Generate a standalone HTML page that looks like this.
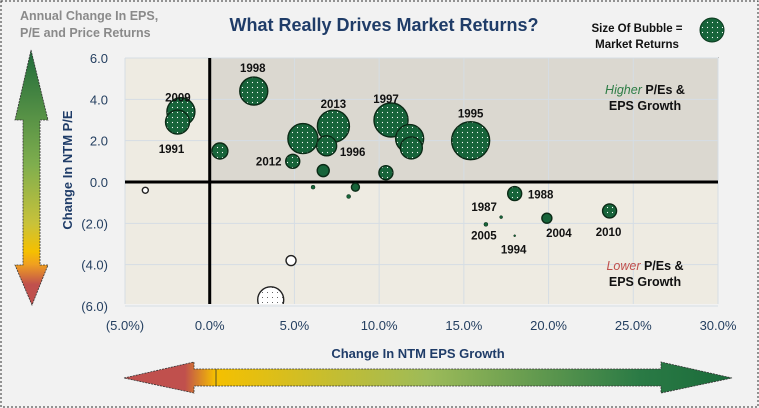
<!DOCTYPE html>
<html><head><meta charset="utf-8"><style>
html,body{margin:0;padding:0;background:#f2f2f2}
svg{display:block;font-family:"Liberation Sans",Arial,sans-serif}
</style></head><body>
<svg id="c" width="759" height="408" viewBox="0 0 759 408">
<defs>
<linearGradient id="vg" x1="0" y1="0" x2="0" y2="1">
<stop offset="0" stop-color="#1f6a3a"/><stop offset="0.45" stop-color="#7fae4e"/><stop offset="0.68" stop-color="#c8c23a"/><stop offset="0.79" stop-color="#f5c000"/><stop offset="0.84" stop-color="#f0a020"/><stop offset="0.92" stop-color="#c0504d"/><stop offset="1" stop-color="#c0504d"/>
</linearGradient>
<linearGradient id="hg" x1="0" y1="0" x2="1" y2="0">
<stop offset="0" stop-color="#c0504d"/><stop offset="0.1" stop-color="#c0504d"/><stop offset="0.15" stop-color="#f5c000"/><stop offset="0.5" stop-color="#9dbb59"/><stop offset="0.85" stop-color="#2a7a45"/><stop offset="1" stop-color="#1a6b3a"/>
</linearGradient>
<pattern id="dots" width="5" height="5" patternUnits="userSpaceOnUse"><rect width="5" height="5" fill="#17643a"/><circle cx="2.5" cy="2.5" r="0.6" fill="#fff"/></pattern>
<pattern id="wdots" width="5" height="5" patternUnits="userSpaceOnUse"><rect width="5" height="5" fill="#fff"/><circle cx="2.5" cy="2.5" r="0.5" fill="#333"/></pattern>
<clipPath id="pc"><rect x="125" y="58" width="593" height="246"/></clipPath>
</defs>
<rect x="1" y="1" width="757" height="406" fill="#f2f2f2" stroke="#333" stroke-dasharray="2,2"/>
<text x="20" y="20" font-size="12.5" font-weight="bold" fill="#8a8a8a">Annual Change In EPS,</text>
<text x="20" y="37" font-size="12.5" font-weight="bold" fill="#8a8a8a">P/E and Price Returns</text>
<text x="384" y="31" text-anchor="middle" font-size="18" font-weight="bold" fill="#1f3c68">What Really Drives Market Returns?</text>
<text x="637" y="32" text-anchor="middle" font-size="11.5" font-weight="bold" fill="#111">Size Of Bubble =</text>
<text x="637" y="48" text-anchor="middle" font-size="11.5" font-weight="bold" fill="#111">Market Returns</text>
<circle cx="712" cy="30" r="12" fill="url(#dots)" stroke="#0b3a1e"/>
<g id="plot"></g>
<g id="axes"></g>
<text transform="translate(72,170) rotate(-90)" text-anchor="middle" font-size="13" font-weight="bold" fill="#1f3c68">Change In NTM P/E</text>
<text x="418" y="358" text-anchor="middle" font-size="13" font-weight="bold" fill="#1f3c68">Change In NTM EPS Growth</text>
<polygon points="31,50 48,120 40,120 40,265 48,265 32,305 15,265 23,265 23,120 15,120" fill="url(#vg)" stroke="#333" stroke-width="0.8" stroke-dasharray="2,1"/>
<polygon points="124,378 194,362 194,369 661,369 661,362 732,378 661,393 661,386 194,386 194,393" fill="url(#hg)" stroke="#333" stroke-width="0.8" stroke-dasharray="2,1"/>
<line x1="216" y1="369" x2="216" y2="386" stroke="#333" stroke-width="0.8"/>
</svg>
<script>
const years = ["2009","1991","1998","","","2013","1996","2012","","1997","","","1995","","","","","","1988","1987","2005","1994","2004","2010","",""];
const epsGrowth = [-1.7,-1.9,2.6,0.6,5.5,7.3,6.9,4.9,6.7,10.7,11.8,11.9,15.4,10.4,-3.8,6.1,8.6,8.2,18.0,17.2,16.3,18.0,19.9,23.6,4.8,3.6];
const peChange = [3.4,2.9,4.4,1.5,2.1,2.7,1.75,1.0,0.55,3.0,2.1,1.65,2.0,0.45,-0.4,-0.25,-0.25,-0.7,-0.56,-1.7,-2.05,-2.6,-1.75,-1.4,-3.8,-5.7];
const marketReturn = [14,12,14,8,15,16,10,7,6,17,14,11,19,7,-3,2,4,2,7,1.5,2,1,5,7,-5,-13];
const xTicks = [-5,0,5,10,15,20,25,30];
const yTicks = [6,4,2,0,-2,-4,-6];
const labelDx = [-3,-6,-1,0,0,0,26,-24,0,-5,0,0,0,0,0,0,0,0,26,-17,-2,-1,12,-1,0,0];
const labelDy = [-14,27,-23,0,0,-22,6,0,0,-21,0,0,-27,0,0,0,0,0,1,-10,11,14,15,21,0,0];

const NS="http://www.w3.org/2000/svg";
const X=v=>125+(v+5)*(593/35);
const Y=v=>182-v*(124/6);
function mk(t,a,p){const e=document.createElementNS(NS,t);for(const k in a)e.setAttribute(k,a[k]);p.appendChild(e);return e;}
const plot=document.getElementById('plot'), axes=document.getElementById('axes');
let r=mk('rect',{x:125,y:58,width:593,height:246,fill:'#eeebe2'},plot);


r=mk('rect',{x:X(0),y:58,width:718-X(0),height:Y(0)-58,fill:'#dbd8d0',stroke:'#333','stroke-dasharray':'2,2'},plot);


xTicks.forEach(t=>{
  const l=mk('line',{x1:X(t),x2:X(t),y1:58,y2:304,stroke:'#d5dde4','stroke-width':1},plot);
  
  
  const tx=mk('text',{x:X(t),y:330,'text-anchor':'middle','font-size':13,fill:'#243f60'},axes);
  tx.textContent=t<0?'('+Math.abs(t).toFixed(1)+'%)':t.toFixed(1)+'%';
  
  
});
yTicks.forEach(t=>{
  const l=mk('line',{x1:125,x2:718,y1:Y(t),y2:Y(t),stroke:'#d5dde4','stroke-width':1},plot);
  
  
  const tx=mk('text',{x:108,y:Y(t)+5,'text-anchor':'end','font-size':13,fill:'#243f60'},axes);
  tx.textContent=t<0?'('+Math.abs(t).toFixed(1)+')':t.toFixed(1);
  
  
});
let ax=mk('line',{x1:125,x2:718,y1:Y(0),y2:Y(0),stroke:'#000','stroke-width':3},plot);


ax=mk('line',{x1:X(0),x2:X(0),y1:58,y2:304,stroke:'#000','stroke-width':3},plot);


const g=mk('g',{'clip-path':'url(#pc)'},plot);
epsGrowth.forEach((v,i)=>{
  const m=marketReturn[i], rad=Math.max(Math.abs(m),1);
  const c=mk('circle',{cx:X(v),cy:Y(peChange[i]),r:rad,fill:m<0?(rad>6?'url(#wdots)':'#fff'):(rad>6?'url(#dots)':'#17643a'),stroke:m<0?'#222':'#0b2a16','stroke-width':rad>2?1.4:0.5},g);
  
  
  if(years[i]){
    const t=mk('text',{x:X(v)+labelDx[i],y:Y(peChange[i])+labelDy[i]+4,'text-anchor':'middle','font-size':11.5,'font-weight':'bold',fill:'#111'},plot);
    t.textContent=years[i];
    
    
  }
});
function q(y,a,b,nm){
  const t=mk('text',{x:645,y:y,'text-anchor':'middle','font-size':12.5,'font-weight':'bold',fill:'#111'},plot);
  const s=mk('tspan',{fill:b,'font-style':'italic','font-weight':'normal'},t);s.textContent=a;
  const s2=mk('tspan',{},t);s2.textContent=' P/Es &';
  
  
}
q(94,'Higher','#2e7d46','upper-quadrant-note');
q(270,'Lower','#c0504d','lower-quadrant-note');
[[110,'upper-note-line2'],[286,'lower-note-line2']].forEach(([y,n])=>{
  const t=mk('text',{x:645,y:y,'text-anchor':'middle','font-size':12.5,'font-weight':'bold',fill:'#111'},plot);
  t.textContent='EPS Growth';
  
  
});
</script>
</body></html>
